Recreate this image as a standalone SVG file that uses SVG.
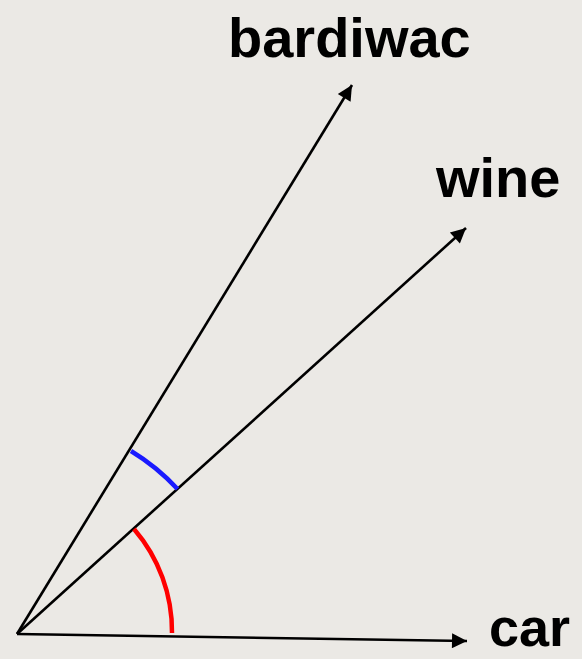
<svg xmlns="http://www.w3.org/2000/svg" width="582" height="659" viewBox="0 0 582 659">
  <style>
    .vec { stroke: #000; stroke-width: 2.6; fill: none; marker-end: url(#arrow); }
    .lbl { font-family: "Liberation Sans", Arial, Helvetica, sans-serif; font-weight: bold; font-size: 56px; fill: #000; }
    .arc { fill: none; stroke-width: 4.5; stroke-linecap: butt; }
  </style>
  <defs>
    <marker id="arrow" viewBox="0 0 10 10" refX="10" refY="5" markerUnits="userSpaceOnUse" markerWidth="19" markerHeight="15" orient="auto">
      <path d="M0,0 L10,5 L0,10 z" fill="#000"/>
    </marker>
  </defs>
  <rect x="0" y="0" width="582" height="659" fill="#ebe9e5"/>
  <g id="connectors">
    <line class="vec" x1="17" y1="634" x2="352" y2="85"/>
    <line class="vec" x1="17" y1="634" x2="466" y2="228"/>
    <line class="vec" x1="17" y1="634" x2="467" y2="641"/>
  </g>
  <g id="angle-bardiwac-wine">
    <path class="arc" stroke="#1a1aff" d="M131,451 A216,216 0 0 1 177.5,489"/>
  </g>
  <g id="angle-wine-car">
    <path class="arc" stroke="#ff0000" d="M134,529 A157,157 0 0 1 172,633"/>
  </g>
  <g id="bardiwac">
    <text class="lbl" x="228" y="57">bardiwac</text>
  </g>
  <g id="wine">
    <text class="lbl" x="436" y="197">wine</text>
  </g>
  <g id="car">
    <text class="lbl" x="489" y="646" style="font-size:54px">car</text>
  </g>
</svg>
